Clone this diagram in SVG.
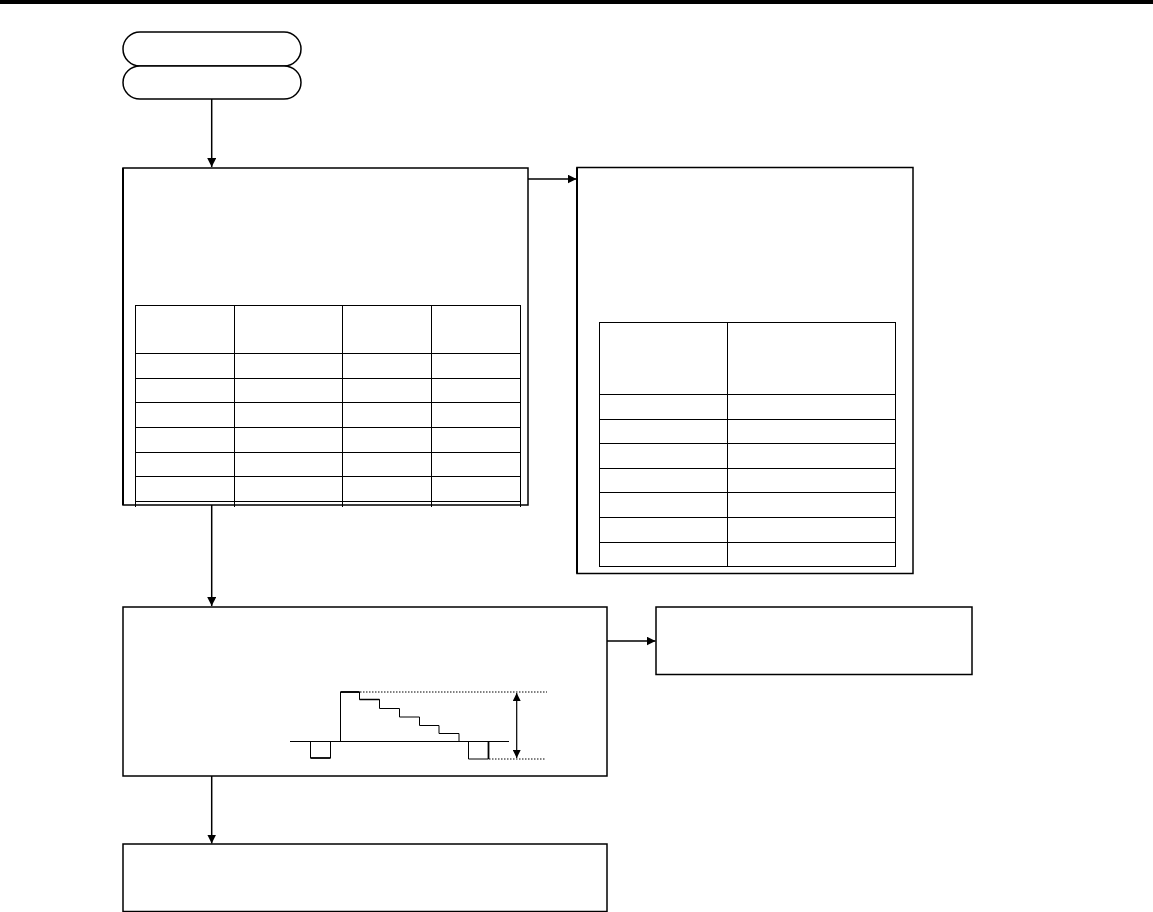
<svg xmlns="http://www.w3.org/2000/svg" width="1153" height="912" viewBox="0 0 1153 912">
<style>
.box{fill:#fff;stroke:#000;stroke-width:1.5}
.tbl{fill:none;stroke:#000;stroke-width:1}
.con{fill:none;stroke:#000;stroke-width:1.5}
.wave{fill:none;stroke:#000;stroke-width:1}
.dot{fill:none;stroke:#000;stroke-width:1;stroke-dasharray:1.5 1.5}
</style>
<defs>
<marker id="ah" viewBox="0 0 10 10" refX="10" refY="5" markerWidth="9" markerHeight="9" markerUnits="userSpaceOnUse" orient="auto-start-reverse">
<path d="M0,0 L10,5 L0,10 z" fill="#000"/>
</marker>
<marker id="ah2" viewBox="0 0 10 10" refX="10" refY="5" markerWidth="10" markerHeight="8" markerUnits="userSpaceOnUse" orient="auto-start-reverse">
<path d="M0,0 L10,5 L0,10 z" fill="#000"/>
</marker>
<clipPath id="c1"><rect x="123" y="168" width="405" height="339"/></clipPath>
</defs>
<rect x="0" y="0" width="1153" height="4" fill="#000"/>

<g id="start1"><rect class="box" x="123" y="32" width="178" height="34" rx="17" ry="17"/></g>
<g id="start2"><rect class="box" x="123" y="66" width="178" height="33" rx="17" ry="17"/></g>

<g id="box1">
<rect class="box" x="123" y="168" width="405" height="337"/>
<line x1="123" y1="168" x2="123" y2="505" stroke="#000" stroke-width="2"/>
<g clip-path="url(#c1)">
<rect class="tbl" x="135.5" y="305.5" width="385" height="210"/>
<path class="tbl" d="M234.5,305.5V510 M342.5,305.5V510 M431.5,305.5V510 M135.5,353.5H520.5 M135.5,378.5H520.5 M135.5,402.5H520.5 M135.5,427.5H520.5 M135.5,452.5H520.5 M135.5,476.5H520.5 M135.5,501.5H520.5"/>
</g>
</g>

<g id="box2">
<rect class="box" x="577" y="167.5" width="336" height="406"/>
<line x1="577" y1="167.5" x2="577" y2="573.5" stroke="#000" stroke-width="2"/>
<rect class="tbl" x="599.5" y="322.5" width="296" height="244"/>
<path class="tbl" d="M727.5,322.5V566.5 M599.5,394.5H895.5 M599.5,419.5H895.5 M599.5,443.5H895.5 M599.5,468.5H895.5 M599.5,492.5H895.5 M599.5,517.5H895.5 M599.5,542.5H895.5"/>
</g>

<g id="box3">
<rect class="box" x="123" y="607" width="484" height="169"/>
<path class="wave" d="M290,741.5H509"/>
<path class="wave" d="M310.5,741.5V758H330.5V741.5"/>
<path d="M310.5,758H330.5" stroke="#000" stroke-width="1.6"/>
<path class="wave" d="M340.5,741.5V692H359.5V699.5H379.5V708.5H399.5V717H419.5V725.5H439V733.5H459V741.5"/>
<path d="M340.5,692H359.5" stroke="#000" stroke-width="1.8"/>
<path d="M359.5,699.5H379.5" stroke="#000" stroke-width="1.5"/>
<path class="wave" d="M468.5,741.5V759H488.5V741.5"/>
<path d="M488.5,741.5V759" stroke="#000" stroke-width="1.8"/>
<path class="dot" d="M360,692H547"/>
<path class="dot" d="M489,759H546"/>
<line x1="516.7" y1="693" x2="516.7" y2="758" stroke="#000" stroke-width="1.2" marker-start="url(#ah2)" marker-end="url(#ah2)"/>
</g>

<g id="box4"><rect class="box" x="656" y="607" width="316" height="67.5"/></g>
<g id="box5"><rect class="box" x="123" y="844" width="484" height="67.5"/></g>

<g id="connectors">
<line class="con" x1="211.7" y1="99" x2="211.7" y2="167" marker-end="url(#ah)"/>
<line class="con" x1="528" y1="179" x2="576.5" y2="179" marker-end="url(#ah)"/>
<line class="con" x1="211.7" y1="505" x2="211.7" y2="606" marker-end="url(#ah)"/>
<line class="con" x1="607" y1="641" x2="655.5" y2="641" marker-end="url(#ah)"/>
<line class="con" x1="211.7" y1="776" x2="211.7" y2="843.5" marker-end="url(#ah)"/>
</g>
</svg>
